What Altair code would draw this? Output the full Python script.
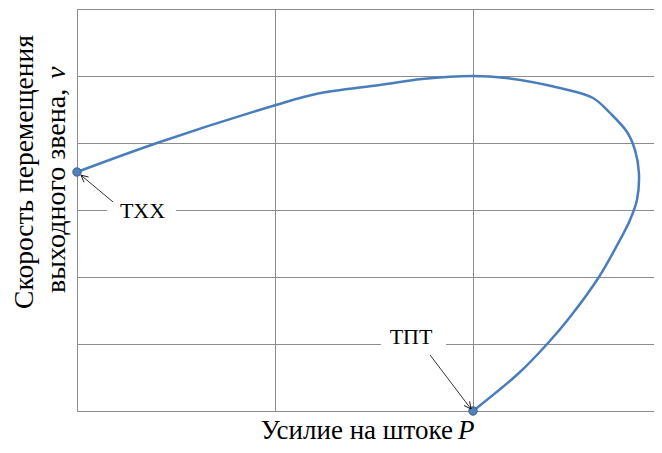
import altair as alt
import pandas as pd

# curve: force on rod P vs speed v (parametric, ordered along curve)
P = [0.0, 0.419, 1.005, 1.207, 1.530, 1.742, 2.0, 2.167, 2.439, 2.606,
     2.692, 2.778, 2.818, 2.838, 2.828, 2.793, 2.742, 2.636, 2.490, 2.379, 2.232, 2.0]
V = [3.567, 4.015, 4.567, 4.731, 4.866, 4.955, 5.0, 4.97, 4.82, 4.672,
     4.448, 4.164, 3.896, 3.552, 3.149, 2.851, 2.552, 2.0, 1.403, 1.015, 0.567, 0.0]

# marked end points
pt_P = [0.0, 2.0]
pt_V = [3.567, 0.0]

# annotations
ann_labels = ["ТХХ", "ТПТ"]
ann_x = [0.331, 1.687]
ann_y = [2.98, 1.11]
box_x1 = [0.152, 1.535]
box_x2 = [0.50, 1.864]
box_y1 = [2.80, 0.94]
box_y2 = [3.16, 1.28]
arr_x1 = [0.182, 1.783]
arr_y1 = [3.12, 0.836]
arr_x2 = [0.02, 1.99]
arr_y2 = [3.52, 0.03]
arr_angle = [310, 143]

x_ticks = [0, 1, 2]
y_ticks = [0, 1, 2, 3, 4, 5, 6]

W, H = 577, 402
XMAX = W / 198.0
FONT = "Liberation Serif"
GRID = "#8c8c8c"
BLUE = "#4A7EBB"

curve = pd.DataFrame({"P": P, "V": V, "i": list(range(len(P)))})
pts = pd.DataFrame({"P": pt_P, "V": pt_V})
ann = pd.DataFrame({"label": ann_labels, "x": ann_x, "y": ann_y,
                    "bx1": box_x1, "bx2": box_x2, "by1": box_y1, "by2": box_y2,
                    "ax1": arr_x1, "ay1": arr_y1, "ax2": arr_x2, "ay2": arr_y2,
                    "ang": arr_angle})

xs = alt.Scale(domain=[0, XMAX], nice=False, zero=False)
ys = alt.Scale(domain=[0, 6], nice=False)
xa = alt.Axis(values=x_ticks, labels=False, ticks=False, title=None, grid=True,
              gridColor=GRID, domainColor=GRID, gridWidth=1, domainWidth=1)
ya = alt.Axis(values=y_ticks, labels=False, ticks=False, title=None, grid=True,
              gridColor=GRID, domainColor=GRID, gridWidth=1, domainWidth=1)

line = alt.Chart(curve).mark_line(color=BLUE, strokeWidth=2.5,
                                   interpolate="catmull-rom").encode(
    x=alt.X("P:Q", scale=xs, axis=xa),
    y=alt.Y("V:Q", scale=ys, axis=ya),
    order="i:O",
)

boxes = alt.Chart(ann).mark_rect(fill="white").encode(
    x=alt.X("bx1:Q", scale=xs), x2="bx2:Q",
    y=alt.Y("by1:Q", scale=ys), y2="by2:Q",
)

points = alt.Chart(pts).mark_point(filled=True, size=70, fill="#4F81BD",
                                   stroke="#385D8A", strokeWidth=1, opacity=1).encode(
    x=alt.X("P:Q", scale=xs), y=alt.Y("V:Q", scale=ys),
)

arrows = alt.Chart(ann).mark_rule(color="black", strokeWidth=0.8).encode(
    x=alt.X("ax1:Q", scale=xs), y=alt.Y("ay1:Q", scale=ys),
    x2="ax2:Q", y2="ay2:Q",
)

heads = alt.Chart(ann).mark_point(shape="M -0.5 1 L 0 0 L 0.5 1", filled=False,
                                  size=196, stroke="black", strokeWidth=0.8,
                                  opacity=1).encode(
    x=alt.X("ax2:Q", scale=xs), y=alt.Y("ay2:Q", scale=ys),
    angle=alt.Angle("ang:Q", scale=None),
)

labels = alt.Chart(ann).mark_text(font=FONT, fontSize=22, color="black",
                                  baseline="middle").encode(
    x=alt.X("x:Q", scale=xs), y=alt.Y("y:Q", scale=ys), text="label:N",
)

def txt(s, x, y, align, angle=0, italic=False, size=27):
    kw = dict(font=FONT, fontSize=size, color="black", align=align,
              baseline="alphabetic")
    if angle:
        kw["angle"] = angle
    if italic:
        kw["fontStyle"] = "italic"
    return alt.Chart(pd.DataFrame({"t": [s]})).mark_text(**kw).encode(
        x=alt.value(x), y=alt.value(y), text="t:N")

x_title = [
    txt("Усилие на штоке", 376, 430, "right"),
    txt("P", 381, 430, "left", italic=True),
]
y_title = [
    txt("Скорость перемещения", -44.5, 163, "center", angle=270, size=27.5),
    txt("выходного звена,", -12, 284, "left", angle=270, size=28),
    txt("v", -12, 70, "left", angle=270, italic=True, size=28),
]

chart = alt.layer(line, boxes, points, arrows, heads, labels, *x_title, *y_title).properties(
    width=W, height=H,
    autosize=alt.AutoSizeParams(type="none"),
    padding={"left": 69, "top": 1, "right": 0, "bottom": 34},
).configure_view(stroke=None)

chart.save("out.html", embed_options={"renderer": "svg", "actions": False})
